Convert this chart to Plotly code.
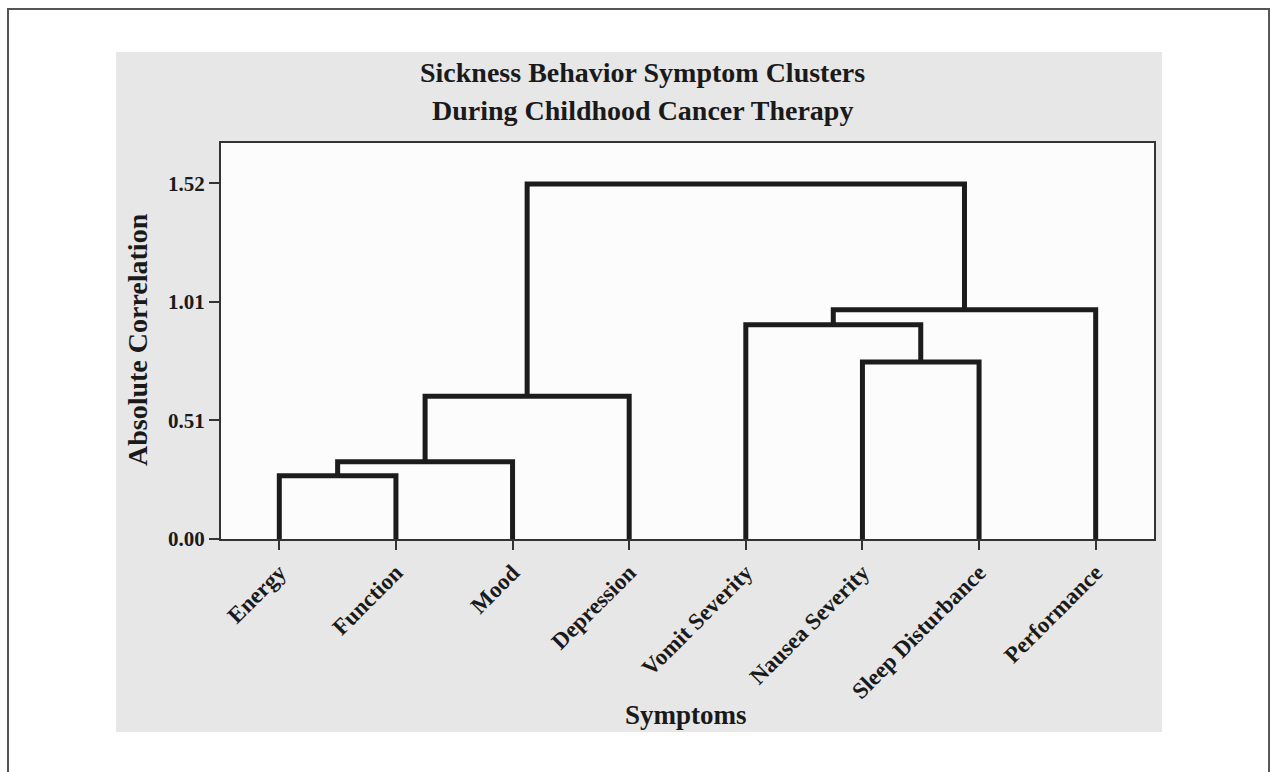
import plotly.graph_objects as go

# ---- data ----
leaf_labels = ["Energy", "Function", "Mood", "Depression",
               "Vomit Severity", "Nausea Severity", "Sleep Disturbance", "Performance"]
# merges: (left node, right node, height); nodes 0..7 are leaves, 8.. are merged clusters
merge_left = [0, 8, 9, 5, 4, 12, 10]
merge_right = [1, 2, 3, 6, 11, 7, 13]
merge_height = [0.27, 0.33, 0.61, 0.756, 0.915, 0.979, 1.517]
ytick_vals = [0.0, 1.52 / 3, 2 * 1.52 / 3, 1.52]
ytick_text = ["0.00", "0.51", "1.01", "1.52"]

# ---- build dendrogram links from the linkage ----
n = len(leaf_labels)
node_x = {i: i + 1 for i in range(n)}
node_h = {i: 0.0 for i in range(n)}
xs, ys = [], []
for k, (a, b, h) in enumerate(zip(merge_left, merge_right, merge_height)):
    xa, xb = node_x[a], node_x[b]
    xs += [xa, xa, xb, xb, None]
    ys += [node_h[a], h, h, node_h[b], None]
    node_x[n + k] = (xa + xb) / 2
    node_h[n + k] = h

serif = "Liberation Serif, Times New Roman, serif"
fig = go.Figure()
fig.add_trace(go.Scatter(x=xs, y=ys, mode="lines",
                         line=dict(color="#1c1c1c", width=5),
                         hoverinfo="skip", showlegend=False))

# panel geometry in paper coords
fig.add_shape(type="rect", xref="paper", yref="paper",
              x0=-0.1125, x1=1.0086, y0=-0.4874, y1=1.2298,
              fillcolor="#e7e7e7", line=dict(width=0), layer="below")
fig.add_shape(type="rect", xref="paper", yref="paper",
              x0=0, x1=1, y0=0, y1=1,
              fillcolor="#fcfcfc", line=dict(width=0), layer="below")
fig.add_shape(type="rect", xref="paper", yref="paper",
              x0=-0.2283, x1=1.1233, y0=-0.70, y1=1.3384,
              fillcolor="rgba(0,0,0,0)", line=dict(color="#555555", width=2), layer="below")

fig.add_annotation(text="Sickness Behavior Symptom Clusters", xref="paper", yref="paper",
                   x=0.452, y=1.1768, showarrow=False, xanchor="center", yanchor="middle",
                   font=dict(family=serif, size=28, color="#1a1a1a", weight="bold"))
fig.add_annotation(text="During Childhood Cancer Therapy", xref="paper", yref="paper",
                   x=0.452, y=1.0833, showarrow=False, xanchor="center", yanchor="middle",
                   font=dict(family=serif, size=28, color="#1a1a1a", weight="bold"))
fig.add_annotation(text="Absolute Correlation", xref="paper", yref="paper",
                   x=-0.09, y=0.5025, showarrow=False, textangle=-90,
                   xanchor="center", yanchor="middle",
                   font=dict(family=serif, size=28, color="#1a1a1a", weight="bold"))
fig.add_annotation(text="Symptoms", xref="paper", yref="paper",
                   x=0.498, y=-0.444, showarrow=False, xanchor="center", yanchor="middle",
                   font=dict(family=serif, size=27, color="#1a1a1a", weight="bold"))

fig.update_layout(
    width=1270, height=772,
    margin=dict(l=221, r=116, t=143, b=233),
    paper_bgcolor="white", plot_bgcolor="#fcfcfc",
    showlegend=False,
)
fig.update_xaxes(range=[0.5, 8.5], tickvals=list(range(1, n + 1)), ticktext=leaf_labels,
                 tickangle=-45, showgrid=False, zeroline=False,
                 showline=True, mirror=True, linecolor="#333333", linewidth=2,
                 ticks="outside", ticklen=9, tickwidth=2, tickcolor="#333333",
                 tickfont=dict(family=serif, size=23, color="#1a1a1a", weight="bold"))
fig.update_yaxes(range=[0, 1.692], tickvals=ytick_vals, ticktext=ytick_text,
                 showgrid=False, zeroline=False,
                 showline=True, mirror=True, linecolor="#333333", linewidth=2,
                 ticks="outside", ticklen=10, tickwidth=2, tickcolor="#333333",
                 tickfont=dict(family=serif, size=21, color="#1a1a1a", weight="bold"))

fig.write_html("out.html", config={"displayModeBar": False},
               post_script="document.body.style.margin='0';")
